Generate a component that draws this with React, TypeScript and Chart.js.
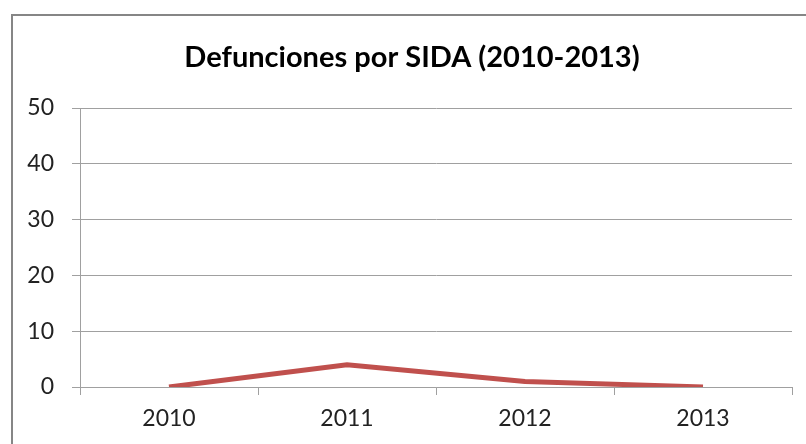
import React, { useEffect, useRef } from "react";
import { Chart, registerables } from "chart.js";

Chart.register(...registerables);

const TITLE = "Defunciones por SIDA (2010-2013)";
const YEARS = ["2010", "2011", "2012", "2013"];
const DEATHS = [0, 4, 1, 0];
const Y_MIN = 0;
const Y_MAX = 50;
const Y_STEP = 10;

const FONT = "Lato, 'Open Sans', sans-serif";

const framePlugin = {
  id: "frameAndTitle",
  beforeDraw(chart: any) {
    const ctx = chart.ctx;
    ctx.save();
    ctx.fillStyle = "#ffffff";
    ctx.fillRect(0, 0, chart.width, chart.height);
    ctx.strokeStyle = "#868686";
    ctx.lineWidth = 2;
    ctx.strokeRect(12, 15, chart.width + 20, chart.height + 20);
    ctx.fillStyle = "#000000";
    ctx.font = "bold 29px " + FONT;
    ctx.textAlign = "center";
    ctx.textBaseline = "middle";
    ctx.fillText(TITLE, 412, 58);
    ctx.restore();
  },
};

export default function App() {
  const ref = useRef<HTMLCanvasElement>(null);
  useEffect(() => {
    document.body.style.margin = "0";
    const chart = new Chart(ref.current!, {
      type: "line",
      data: {
        labels: YEARS,
        datasets: [
          {
            data: DEATHS,
            borderColor: "#C0504D",
            borderWidth: 5,
            pointRadius: 0,
            tension: 0,
            fill: false,
          },
        ],
      },
      options: {
        animation: false,
        responsive: false,
        layout: { padding: { top: 108, right: 14, left: 0, bottom: 0 } },
        plugins: { legend: { display: false }, title: { display: false }, tooltip: { enabled: false } },
        scales: {
          x: {
            offset: true,
            grid: {
              offset: true,
              drawOnChartArea: false,
              drawTicks: true,
              tickLength: 8,
              color: "#A0A0A0",
            },
            border: { color: "#A0A0A0", width: 1 },
            ticks: { color: "#222", font: { family: FONT, size: 23 }, padding: 10 },
            afterFit(scale: any) {
              scale.height = 57;
            },
          },
          y: {
            min: Y_MIN,
            max: Y_MAX,
            ticks: { stepSize: Y_STEP, color: "#222", font: { family: FONT, size: 23 }, padding: 18 },
            grid: { color: "#A0A0A0", tickLength: 8, lineWidth: 1 },
            border: { color: "#A0A0A0", width: 1 },
            afterFit(scale: any) {
              scale.width = 80;
            },
          },
        },
      },
      plugins: [framePlugin],
    });
    return () => chart.destroy();
  }, []);
  return (
    <div style={{ position: "absolute", left: 0, top: 0, width: 806, height: 444 }}>
      <canvas ref={ref} width={806} height={444} style={{ width: 806, height: 444 }} />
    </div>
  );
}
